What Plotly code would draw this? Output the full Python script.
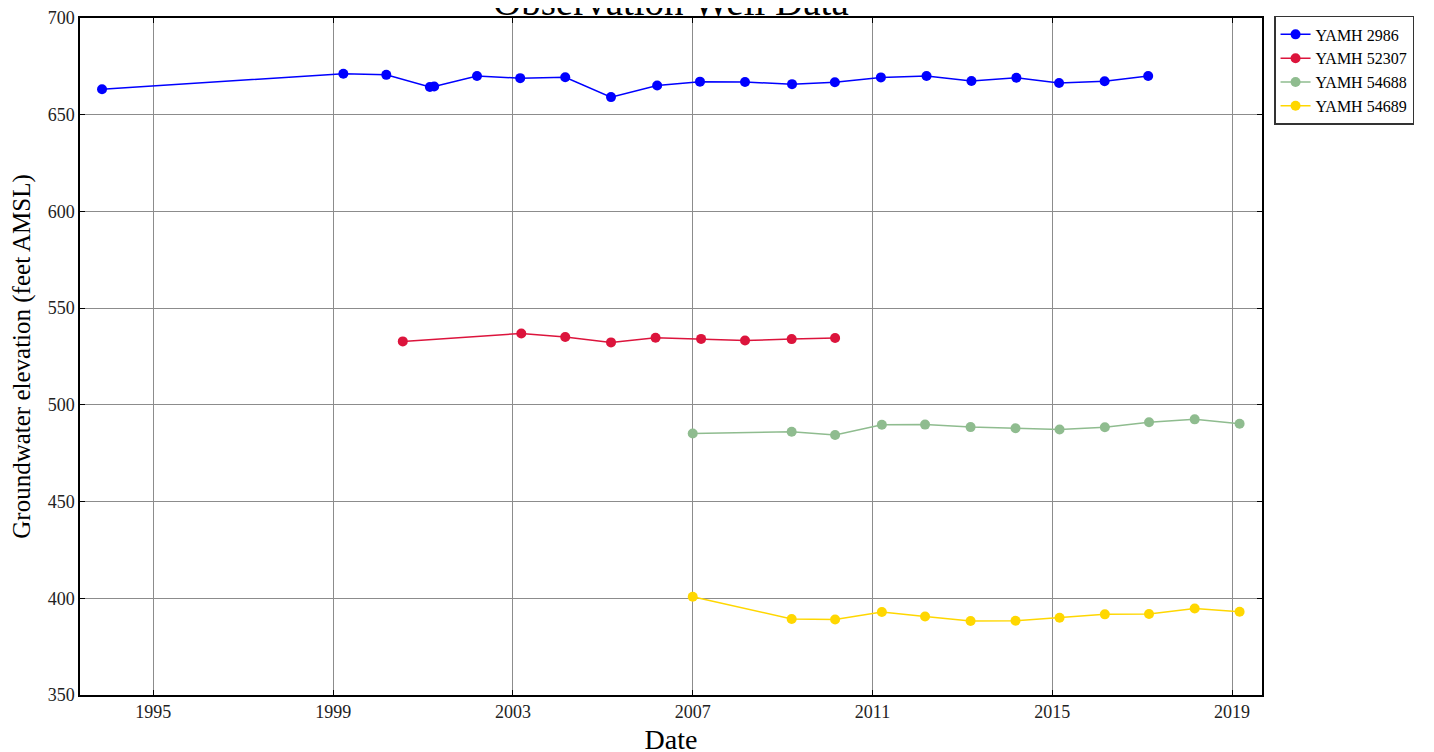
import plotly.graph_objects as go

# ---- data ----
dates_2986 = ["1993-11-10", "1999-03-25", "2000-03-08", "2001-02-25", "2001-04-01",
              "2002-03-15", "2003-03-01", "2004-03-01", "2005-03-08", "2006-03-18",
              "2007-03-01", "2008-03-01", "2009-03-18", "2010-03-01", "2011-03-10",
              "2012-03-15", "2013-03-15", "2014-03-15", "2015-02-25", "2016-03-01",
              "2017-02-18"]
vals_2986 = [663.2, 671.2, 670.6, 664.3, 664.6,
             670.0, 668.9, 669.4, 659.1, 665.1,
             667.1, 666.9, 665.8, 666.8, 669.3,
             670.0, 667.4, 669.1, 666.4, 667.3,
             670.0]

dates_52307 = ["2000-07-20", "2003-03-10", "2004-03-01", "2005-03-08", "2006-03-05",
               "2007-03-10", "2008-03-01", "2009-03-15", "2010-03-03"]
vals_52307 = [532.8, 536.9, 535.1, 532.3, 534.7, 534.1, 533.3, 534.0, 534.6]

dates_54688 = ["2007-01-01", "2009-03-15", "2010-03-03", "2011-03-18", "2012-03-03",
               "2013-03-08", "2014-03-08", "2015-03-01", "2016-03-03", "2017-02-25",
               "2018-03-03", "2019-03-03"]
vals_54688 = [485.2, 486.1, 484.4, 489.7, 489.8, 488.5, 487.9, 487.3, 488.4, 491.0, 492.5, 490.2]

dates_54689 = dates_54688
vals_54689 = [400.8, 389.3, 389.0, 392.9, 390.6, 388.3, 388.4, 389.9, 391.7, 391.9, 394.7, 393.0]

series_names = ["YAMH 2986", "YAMH 52307", "YAMH 54688", "YAMH 54689"]
series_colors = ["#0000ff", "#dc143c", "#8fbc8f", "#ffd700"]

x_ticks = ["1995-01-01", "1999-01-01", "2003-01-01", "2007-01-01",
           "2011-01-01", "2015-01-01", "2019-01-01"]
x_tick_labels = ["1995", "1999", "2003", "2007", "2011", "2015", "2019"]
y_ticks = [350, 400, 450, 500, 550, 600, 650, 700]

title_text = "Observation Well Data"

SERIF = "Liberation Serif, Times New Roman, serif"

fig = go.Figure()
for name, color, xs, ys in zip(series_names, series_colors,
                               [dates_2986, dates_52307, dates_54688, dates_54689],
                               [vals_2986, vals_52307, vals_54688, vals_54689]):
    fig.add_trace(go.Scatter(
        x=xs, y=ys, name=name, mode="lines+markers",
        line=dict(color=color, width=1.5),
        marker=dict(color=color, size=10, line=dict(width=0)),
    ))

axis_common = dict(
    showline=True, linecolor="black", linewidth=1.5, mirror="ticks",
    ticks="inside", ticklen=5, tickcolor="black",
    showgrid=True, gridcolor="#8c8c8c", gridwidth=0.8,
    zeroline=False, automargin=False,
    tickfont=dict(family=SERIF, size=18, color="#222"),
)

fig.update_layout(
    width=1434, height=752,
    paper_bgcolor="white", plot_bgcolor="white",
    margin=dict(l=72, r=180, t=10, b=65, autoexpand=False),
    xaxis=dict(**axis_common,
               range=["1993-05-15", "2019-09-01"],
               tickmode="array", tickvals=x_ticks, ticktext=x_tick_labels,
               title=dict(text="Date", font=dict(family=SERIF, size=28, color="black"),
                          standoff=8)),
    yaxis=dict(**axis_common,
               range=[350, 700], tickmode="array", tickvals=y_ticks,
               title=dict(text="Groundwater elevation (feet AMSL)",
                          font=dict(family=SERIF, size=25, color="black"),
                          standoff=12)),
    legend=dict(x=1.0102, y=1.003, xanchor="left", yanchor="top",
                bordercolor="#333", borderwidth=1.5, bgcolor="white",
                font=dict(family=SERIF, size=16, color="black"),
                itemwidth=30),
    showlegend=True,
)

fig.add_annotation(
    text=title_text, xref="paper", yref="paper", x=0.5, y=1.0,
    xanchor="center", yanchor="bottom", yshift=-7, showarrow=False,
    font=dict(family=SERIF, size=39, color="black"),
)

fig.write_html("out.html")
